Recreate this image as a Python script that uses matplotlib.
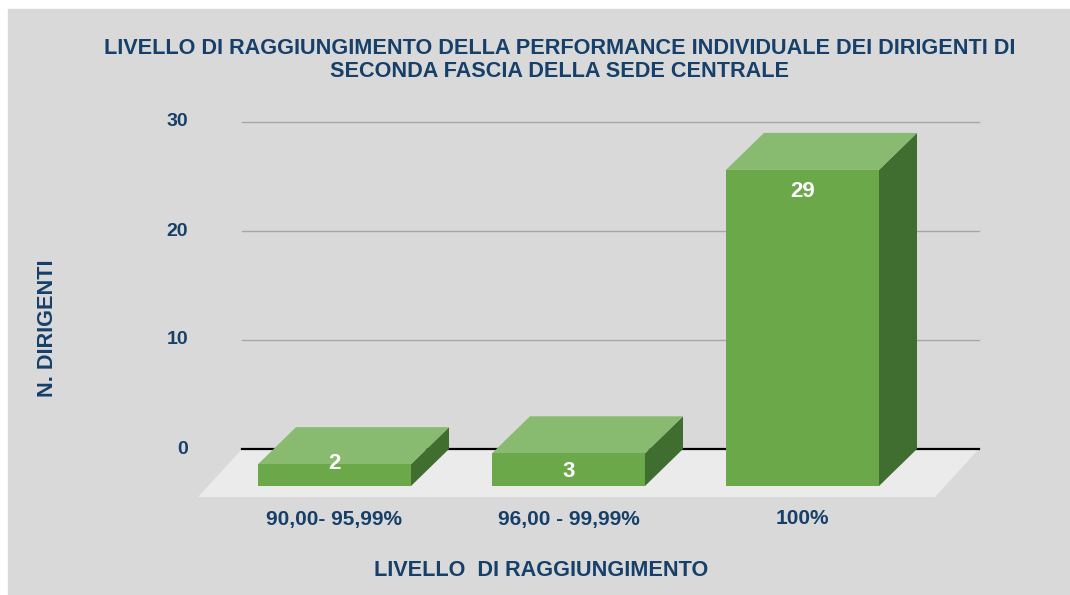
# -*- coding: utf-8 -*-
"""
Pseudo-3D column chart: livello di raggiungimento della performance.
"""
import matplotlib
matplotlib.use('Agg')
import matplotlib.pyplot as plt
from matplotlib.patches import Polygon, Rectangle

# =============================================================================
# Data
# =============================================================================
categories = ['90,00- 95,99%', '96,00 - 99,99%', '100%']
values = [2, 3, 29]
y_ticks = [0, 10, 20, 30]

title = ('LIVELLO DI RAGGIUNGIMENTO DELLA PERFORMANCE INDIVIDUALE DEI DIRIGENTI DI\n'
         'SECONDA FASCIA DELLA SEDE CENTRALE')
x_title = 'LIVELLO  DI RAGGIUNGIMENTO'
y_title = 'N. DIRIGENTI'

# =============================================================================
# Style / layout
# =============================================================================
W, H = 1070, 595
TXT = '#163f69'
BG = '#d9d9d9'
FLOOR = '#ebebeb'
FRONT = '#6aa84a'
TOP = '#88ba6f'
SIDE = '#406d30'
GRID = '#a6a6a6'

px_cat = 234.0      # pixels per category step
x0 = 372.5          # pixel x of category 0 (back plane)
px_val = 10.9       # pixels per value unit
y0 = 449.0          # pixel y (from top) of value 0 (back plane)

bar_w = 153 / px_cat
dx = 38 / px_cat    # depth offset (front is shifted left/down)
dy = 37 / px_val
floor_dx = 44 / px_cat
floor_dy = 48 / px_val
grid_left = (242 - x0) / px_cat
grid_right = (979 - x0) / px_cat
label_off = [0.1, -1.7, -1.95]

plt.rc('font', family=['Liberation Sans', 'DejaVu Sans'], weight='bold')

fig = plt.figure(figsize=(W / 100, H / 100), dpi=100, facecolor='white')
fig.patches.append(Rectangle((8 / W, 0), 1, 1 - 9 / H, transform=fig.transFigure,
                             color=BG, zorder=-1))

ax = fig.add_axes([0, 0, 1, 1])
ax.set_xlim(-x0 / px_cat, (W - x0) / px_cat)
ax.set_ylim((y0 - H) / px_val, y0 / px_val)
ax.axis('off')
ax.patch.set_alpha(0)

# Floor
ax.add_patch(Polygon([(grid_left, 0), (grid_right, 0),
                      (grid_right - floor_dx, -floor_dy),
                      (grid_left - floor_dx, -floor_dy)],
                     closed=True, color=FLOOR, lw=0, zorder=1))

# Grid lines and y tick labels
for t in y_ticks:
    ax.plot([grid_left, grid_right], [t, t], color='black' if t == 0 else GRID,
            lw=1.6 if t == 0 else 1.0, zorder=1)
    ax.text((188 - x0) / px_cat, t, str(t), ha='right', va='center',
            fontsize=14, color=TXT)

# Bars
for i, v in enumerate(values):
    bl = i - bar_w / 2
    br = i + bar_w / 2
    fl, fr = bl - dx, br - dx
    fb, ft = -dy, v - dy
    # side
    ax.add_patch(Polygon([(fr, fb), (br, 0), (br, v), (fr, ft)],
                         closed=True, color=SIDE, lw=0, zorder=3))
    # top
    ax.add_patch(Polygon([(fl, ft), (fr, ft), (br, v), (bl, v)],
                         closed=True, color=TOP, lw=0, zorder=3))
    # front
    ax.add_patch(Rectangle((fl, fb), bar_w, v, color=FRONT, lw=0, zorder=4))
    ax.text(i - dx, ft + label_off[i], str(v), ha='center', va='center',
            color='white', fontsize=16, zorder=5)
    ax.text(i - dx, (y0 - 519) / px_val, categories[i], ha='center',
            va='center', fontsize=15, color=TXT)

# Titles
fig.text(560 / W, 1 - 60 / H, title, ha='center', va='center', fontsize=15.6,
         color=TXT, linespacing=1.12)
fig.text(541 / W, 1 - 570 / H, x_title, ha='center', va='center',
         fontsize=15.6, color=TXT)
fig.text(48 / W, 1 - 328 / H, y_title, ha='center', va='center',
         fontsize=15.6, color=TXT, rotation=90)

fig.savefig('out.png', dpi=100, facecolor='white')
